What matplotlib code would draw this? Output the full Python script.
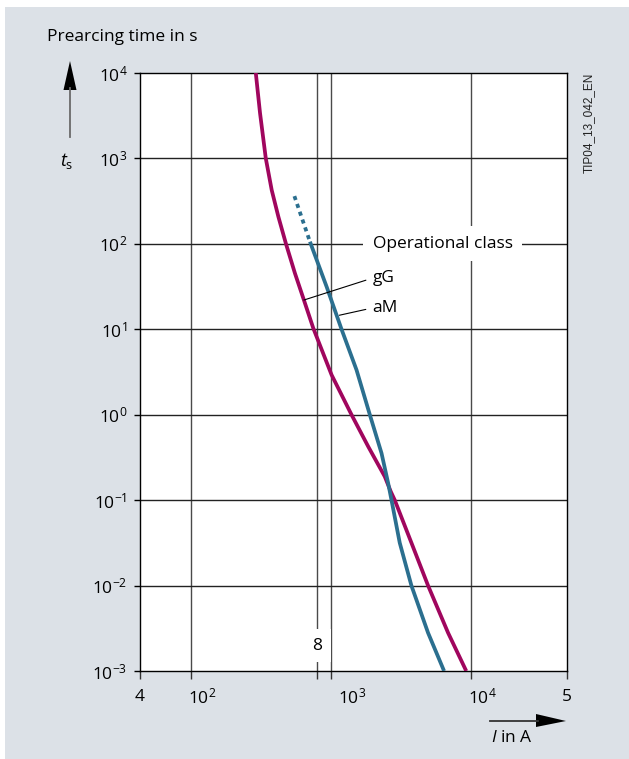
import matplotlib
matplotlib.use("Agg")
import matplotlib.pyplot as plt
from matplotlib.patches import Rectangle, Polygon
from matplotlib.lines import Line2D

plt.rcParams["font.family"] = ["Open Sans", "DejaVu Sans"]
plt.rcParams["mathtext.fontset"] = "custom"
plt.rcParams["mathtext.rm"] = "Open Sans"
plt.rcParams["mathtext.it"] = "Open Sans:italic"

# --- data (current in A, prearcing time in s) ---
gg_current = [290, 311, 342, 377, 421, 477, 553, 641, 748, 1012, 1405, 1850, 2430, 2683,
              2866, 3770, 4960, 6900, 9310]
gg_time = [1e4, 3390, 1000, 426, 207, 100, 45.2, 22.0, 10.3, 2.92, 1.0, 0.424, 0.189, 0.126,
           0.1, 0.0317, 0.01, 0.0028, 0.001]

am_current = [708, 932, 1192, 1526, 1900, 2303, 2570, 2716, 3110, 3770, 4960, 6460]
am_time = [106, 31.5, 10, 3.34, 1.0, 0.355, 0.158, 0.1, 0.0317, 0.01, 0.0028, 0.001]

am_dot_current = [548, 708]
am_dot_time = [362, 106]

# axis runs from roughly 4*10^1 to 5*10^4 (edges labelled "4" and "5")
x_limits = (43, 49000)
x_ticks = [43, 100, 1000, 10000, 49000]
x_ticklabels = ["4", r"$\mathregular{10^2}$", r"$\mathregular{10^3}$", r"$\mathregular{10^4}$", "5"]
y_ticks = [1e-3, 1e-2, 1e-1, 1e0, 1e1, 1e2, 1e3, 1e4]
y_ticklabels = [r"$\mathregular{10^{-3}}$", r"$\mathregular{10^{-2}}$", r"$\mathregular{10^{-1}}$",
                r"$\mathregular{10^0}$", r"$\mathregular{10^1}$", r"$\mathregular{10^2}$",
                r"$\mathregular{10^3}$", r"$\mathregular{10^4}$"]
v_grid = [100, 800, 1000, 10000]

W, H = 629, 759
FS = 12.5
MAGENTA = "#a0065e"
TEAL = "#2b6f8f"
BG = "#dce1e7"


def fx(px):
    return px / W


def fy(py):
    return 1 - py / H


fig = plt.figure(figsize=(W / 100, H / 100), dpi=100, facecolor="white")
fig.add_artist(Rectangle((fx(5), 0), 1 - fx(5), fy(7), transform=fig.transFigure,
                         facecolor=BG, edgecolor="none", zorder=0))

ax = fig.add_axes([fx(140), fy(671), fx(567) - fx(140), fy(73) - fy(671)])
ax.set_facecolor("white")
ax.set_xscale("log")
ax.set_yscale("log")
ax.set_xlim(*x_limits)
ax.set_ylim(1e-3, 1e4)

# grid
for v in v_grid:
    ax.axvline(v, color="#4a4a4a", lw=1.0, zorder=1)
for t in y_ticks[1:-1]:
    ax.axhline(t, color="#222222", lw=1.0, zorder=1)

for s in ax.spines.values():
    s.set_color("black")
    s.set_linewidth(1.0)

ax.set_xticks(v_grid + list(x_limits), minor=True)
ax.set_xticks([])
ax.tick_params(axis="x", which="minor", length=6, width=1.0, color="#333333", labelbottom=False)
ax.set_yticks(y_ticks)
ax.set_yticklabels(y_ticklabels)
ax.yaxis.set_minor_locator(matplotlib.ticker.NullLocator())
ax.tick_params(axis="y", which="major", length=4, width=1.0, pad=5, labelsize=FS)

# x tick labels placed by hand (reference offsets them a bit)
label_dx = [0, 11, 21, 12, 0]
for xv, lab, dx in zip(x_ticks, x_ticklabels, label_dx):
    ax.annotate(lab, xy=(xv, 0), xycoords=("data", "axes fraction"),
                xytext=(dx, -26), textcoords="offset pixels",
                ha="center", va="center", fontsize=FS, annotation_clip=False)

# curves
ax.plot(gg_current, gg_time, color=MAGENTA, lw=2.7, zorder=3, solid_capstyle="butt")
ax.plot(am_current, am_time, color=TEAL, lw=2.7, zorder=3, solid_capstyle="butt")
ax.plot(am_dot_current, am_dot_time, color=TEAL, lw=2.7, zorder=3,
        linestyle=(0, (1.1, 1.1)), dash_capstyle="butt")

# labels inside the plot
ax.text(2000, 100, "Operational class", fontsize=FS, va="center", ha="left", zorder=4,
        bbox=dict(boxstyle="square,pad=0.55", facecolor="white", edgecolor="none"))
ax.annotate("gG", xy=(641, 22.0), xytext=(1990, 39.8), fontsize=FS, va="center", ha="left",
            arrowprops=dict(arrowstyle="-", lw=0.8, color="black", shrinkA=3, shrinkB=0,
                            relpos=(0, 0.5)))
ax.annotate("aM", xy=(1150, 14.6), xytext=(1990, 17.8), fontsize=FS, va="center", ha="left",
            arrowprops=dict(arrowstyle="-", lw=0.8, color="black", shrinkA=3, shrinkB=0,
                            relpos=(0, 0.5)))
ax.text(800, 1.98e-3, "8", fontsize=FS, ha="center", va="center", zorder=4,
        bbox=dict(boxstyle="square,pad=0.5", facecolor="white", edgecolor="none"))

# outside texts
fig.text(fx(47), fy(37), "Prearcing time in s", fontsize=FS, ha="left", va="center")
fig.text(fx(67), fy(161), r"$\mathit{t}_\mathregular{s}$", fontsize=13, ha="center", va="center")
fig.text(fx(491), fy(738), r"$\mathit{I}$ in A", fontsize=FS, ha="left", va="center")
fig.text(fx(589), fy(123), "TIP04_13_042_EN", fontsize=8.5, rotation=90, ha="center",
         va="center", family="Liberation Sans", color="#222222")

# arrows
fig.add_artist(Line2D([fx(70), fx(70)], [fy(137), fy(88)], transform=fig.transFigure,
                      color="#6a6a6a", lw=1.3))
fig.add_artist(Polygon([(fx(63.5), fy(90)), (fx(76.5), fy(90)), (fx(70), fy(61))],
                       closed=True, transform=fig.transFigure, facecolor="black",
                       edgecolor="none"))
fig.add_artist(Line2D([fx(490), fx(538)], [fy(721), fy(721)], transform=fig.transFigure,
                      color="#333333", lw=1.3))
fig.add_artist(Polygon([(fx(536), fy(714)), (fx(536), fy(727)), (fx(566), fy(721))],
                       closed=True, transform=fig.transFigure, facecolor="black",
                       edgecolor="none"))

fig.savefig("out.png", dpi=100, facecolor="white")
